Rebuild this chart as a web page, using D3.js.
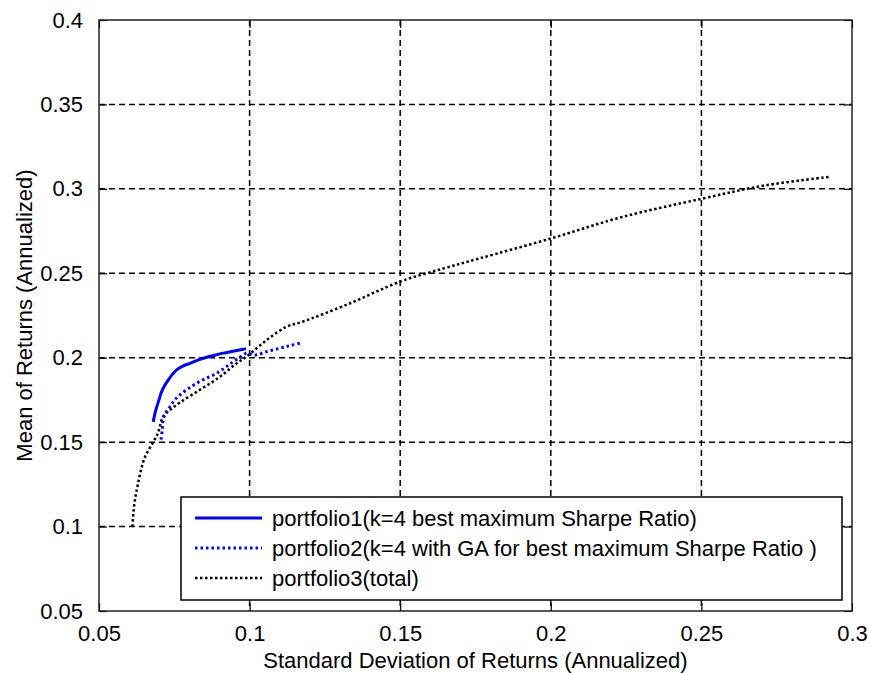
<!DOCTYPE html>
<html>
<head>
<meta charset="utf-8">
<script src="https://cdn.jsdelivr.net/npm/d3@7/dist/d3.min.js"></script>
<style>
  body { margin: 0; background: #fff; }
  text { font-family: "Liberation Sans", Arial, sans-serif; fill: #000; }
</style>
</head>
<body>
<div id="chart"></div>
<script>
// tick values
const xTicks = [0.05, 0.1, 0.15, 0.2, 0.25, 0.3];
const yTicks = [0.05, 0.1, 0.15, 0.2, 0.25, 0.3, 0.35, 0.4];

// portfolio1 (k=4 best max sharpe) - blue solid
const p1Sd =   [0.0680, 0.0685, 0.0692, 0.0700, 0.0708, 0.0718, 0.0730, 0.0743, 0.0758, 0.0778, 0.0802, 0.0830, 0.0858, 0.0885, 0.0913, 0.0945, 0.0979, 0.0988];
const p1Mean = [0.1620, 0.1665, 0.1710, 0.1755, 0.1799, 0.1835, 0.1868, 0.1900, 0.1928, 0.1950, 0.1967, 0.1987, 0.2003, 0.2015, 0.2027, 0.2038, 0.2050, 0.2053];

// portfolio2 (k=4 with GA) - blue dotted
const p2Sd =   [0.0706, 0.0710, 0.0713, 0.0722, 0.0736, 0.0750, 0.0769, 0.0795, 0.0824, 0.0858, 0.0891, 0.0920, 0.0946, 0.0970, 0.0990, 0.1005, 0.1023, 0.1057, 0.1100, 0.1135, 0.1167];
const p2Mean = [0.1515, 0.1570, 0.1632, 0.1675, 0.1710, 0.1748, 0.1780, 0.1815, 0.1849, 0.1880, 0.1908, 0.1943, 0.1977, 0.2005, 0.2027, 0.2020, 0.2017, 0.2036, 0.2056, 0.2072, 0.2086];

// portfolio3 (total) - black dotted
const p3Sd =   [0.0611, 0.0614, 0.0620, 0.0628, 0.0638, 0.0653, 0.0680, 0.0695, 0.0703, 0.0712, 0.0735, 0.0769, 0.0835, 0.0902, 0.0957, 0.0990, 0.1057, 0.1123, 0.1171, 0.1336, 0.1500, 0.1645, 0.1763, 0.2000, 0.2236, 0.2500, 0.2710, 0.2930];
const p3Mean = [0.1000, 0.1079, 0.1167, 0.1240, 0.1325, 0.1414, 0.1500, 0.1550, 0.1600, 0.1650, 0.1690, 0.1735, 0.1810, 0.1888, 0.1967, 0.2007, 0.2105, 0.2184, 0.2210, 0.2324, 0.2451, 0.2529, 0.2588, 0.2706, 0.2833, 0.2941, 0.3020, 0.3072];

const legendLabels = [
  "portfolio1(k=4 best maximum Sharpe Ratio)",
  "portfolio2(k=4 with GA for best maximum Sharpe Ratio )",
  "portfolio3(total)"
];

const W = 869, H = 673;
const margin = { top: 20, right: 17, bottom: 62, left: 99 };
const width = W - margin.left - margin.right;
const height = H - margin.top - margin.bottom;

const svg = d3.select("#chart").append("svg")
  .attr("width", W)
  .attr("height", H);

const g = svg.append("g")
  .attr("transform", `translate(${margin.left},${margin.top})`);

const x = d3.scaleLinear().domain([0.05, 0.3]).range([0, width]);
const y = d3.scaleLinear().domain([0.05, 0.4]).range([height, 0]);

// grid
g.append("g").selectAll("line")
  .data(xTicks.slice(1, -1))
  .join("line")
  .attr("x1", d => x(d)).attr("x2", d => x(d))
  .attr("y1", 0).attr("y2", height)
  .attr("stroke", "#000").attr("stroke-width", 1.5)
  .attr("stroke-dasharray", "6,4");

g.append("g").selectAll("line")
  .data(yTicks.slice(1, -1))
  .join("line")
  .attr("y1", d => y(d)).attr("y2", d => y(d))
  .attr("x1", 0).attr("x2", width)
  .attr("stroke", "#000").attr("stroke-width", 1.5)
  .attr("stroke-dasharray", "6,4");

// axes with inward ticks on all sides
const fmt = d => String(+d.toFixed(2));
const styleAxis = sel => {
  sel.select(".domain").remove();
  sel.selectAll(".tick line").attr("stroke", "#000").attr("stroke-width", 1.2);
  sel.selectAll("text").style("font-size", "22px").attr("fill", "#000");
};

g.append("g").attr("transform", `translate(0,${height})`)
  .call(d3.axisBottom(x).tickValues(xTicks).tickSize(-8).tickPadding(14).tickFormat(fmt))
  .call(styleAxis);
g.append("g")
  .call(d3.axisTop(x).tickValues(xTicks).tickSize(-8).tickFormat(""))
  .call(styleAxis);
g.append("g")
  .call(d3.axisLeft(y).tickValues(yTicks).tickSize(-8).tickPadding(16).tickFormat(fmt))
  .call(styleAxis);
g.append("g").attr("transform", `translate(${width},0)`)
  .call(d3.axisRight(y).tickValues(yTicks).tickSize(-8).tickFormat(""))
  .call(styleAxis);

g.append("rect")
  .attr("width", width).attr("height", height)
  .attr("fill", "none").attr("stroke", "#222").attr("stroke-width", 1.5);

// curves
const line = d3.line()
  .x(d => x(d[0]))
  .y(d => y(d[1]))
  .curve(d3.curveCatmullRom);

const series = [
  { sd: p3Sd, mean: p3Mean, color: "#000", width: 2.5, dash: "2.5,2.5" },
  { sd: p2Sd, mean: p2Mean, color: "#0000ff", width: 3, dash: "2.5,3" },
  { sd: p1Sd, mean: p1Mean, color: "#0000ff", width: 3, dash: null }
];

series.forEach(s => {
  g.append("path")
    .datum(d3.zip(s.sd, s.mean))
    .attr("d", line)
    .attr("fill", "none")
    .attr("stroke", s.color)
    .attr("stroke-width", s.width)
    .attr("stroke-dasharray", s.dash);
});

// legend
const legend = svg.append("g").attr("transform", "translate(181,497)");
legend.append("rect")
  .attr("width", 661).attr("height", 103)
  .attr("fill", "#fff").attr("stroke", "#000").attr("stroke-width", 1.5);

const legendStyle = [series[2], series[1], series[0]];
legendLabels.forEach((lbl, i) => {
  const yy = 21 + i * 30;
  const s = legendStyle[i];
  legend.append("line")
    .attr("x1", 14).attr("x2", 81).attr("y1", yy).attr("y2", yy)
    .attr("stroke", s.color).attr("stroke-width", s.width)
    .attr("stroke-dasharray", s.dash);
  legend.append("text")
    .attr("x", 91).attr("y", yy)
    .attr("dy", "0.35em")
    .style("font-size", "22px")
    .text(lbl);
});

// axis titles
svg.append("text")
  .attr("x", margin.left + width / 2)
  .attr("y", 668)
  .attr("text-anchor", "middle")
  .style("font-size", "22px")
  .text("Standard Deviation of Returns (Annualized)");

svg.append("text")
  .attr("transform", `translate(32,${margin.top + height / 2}) rotate(-90)`)
  .attr("text-anchor", "middle")
  .style("font-size", "22px")
  .text("Mean of Returns (Annualized)");
</script>
</body>
</html>
